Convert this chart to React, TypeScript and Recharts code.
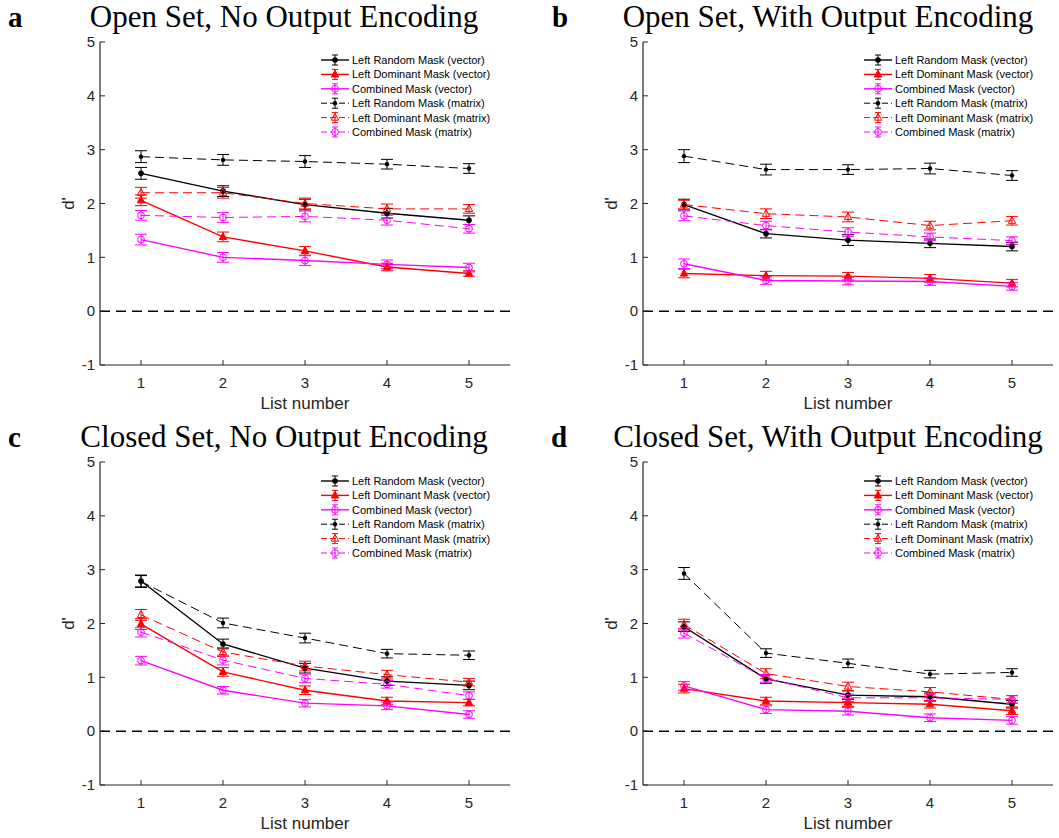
import React from 'react';
import { LineChart, Line, XAxis, YAxis, ErrorBar, ReferenceLine, Legend } from 'recharts';

// ---------- data ----------
const listNumbers = [1, 2, 3, 4, 5];
const xTicks = [1, 2, 3, 4, 5];
const yTicks = [-1, 0, 1, 2, 3, 4, 5];

const seriesNames = [
  'Left Random Mask (vector)',
  'Left Dominant Mask (vector)',
  'Combined Mask (vector)',
  'Left Random Mask (matrix)',
  'Left Dominant Mask (matrix)',
  'Combined Mask (matrix)',
];

// Panel a: Open Set, No Output Encoding
const aLRvec = [2.56, 2.23, 1.98, 1.82, 1.69];
const aLDvec = [2.06, 1.38, 1.12, 0.82, 0.7];
const aCMvec = [1.33, 1.0, 0.94, 0.87, 0.81];
const aLRmat = [2.87, 2.81, 2.78, 2.73, 2.65];
const aLDmat = [2.2, 2.2, 2.0, 1.9, 1.9];
const aCMmat = [1.78, 1.74, 1.76, 1.69, 1.53];
const aLRvecErr = [0.11, 0.1, 0.1, 0.09, 0.08];
const aLDvecErr = [0.1, 0.09, 0.08, 0.07, 0.05];
const aCMvecErr = [0.1, 0.09, 0.09, 0.08, 0.08];
const aLRmatErr = [0.11, 0.1, 0.11, 0.09, 0.09];
const aLDmatErr = [0.1, 0.1, 0.1, 0.09, 0.08];
const aCMmatErr = [0.09, 0.09, 0.1, 0.09, 0.08];

// Panel b: Open Set, With Output Encoding
const bLRvec = [1.98, 1.44, 1.32, 1.26, 1.2];
const bLDvec = [0.7, 0.66, 0.65, 0.61, 0.52];
const bCMvec = [0.88, 0.57, 0.56, 0.55, 0.46];
const bLRmat = [2.88, 2.63, 2.63, 2.65, 2.52];
const bLDmat = [1.98, 1.81, 1.75, 1.59, 1.68];
const bCMmat = [1.77, 1.59, 1.47, 1.38, 1.31];
const bLRvecErr = [0.1, 0.08, 0.1, 0.08, 0.08];
const bLDvecErr = [0.08, 0.08, 0.07, 0.07, 0.07];
const bCMvecErr = [0.09, 0.07, 0.07, 0.07, 0.07];
const bLRmatErr = [0.12, 0.1, 0.09, 0.1, 0.09];
const bLDmatErr = [0.08, 0.09, 0.09, 0.08, 0.08];
const bCMmatErr = [0.09, 0.08, 0.08, 0.07, 0.07];

// Panel c: Closed Set, No Output Encoding
const cLRvec = [2.79, 1.62, 1.17, 0.93, 0.85];
const cLDvec = [1.99, 1.1, 0.76, 0.56, 0.53];
const cCMvec = [1.31, 0.76, 0.52, 0.47, 0.31];
const cLRmat = [2.78, 2.01, 1.73, 1.44, 1.41];
const cLDmat = [2.16, 1.47, 1.21, 1.05, 0.91];
const cCMmat = [1.84, 1.32, 0.98, 0.87, 0.66];
const cLRvecErr = [0.11, 0.09, 0.09, 0.08, 0.08];
const cLDvecErr = [0.1, 0.08, 0.08, 0.07, 0.06];
const cCMvecErr = [0.08, 0.07, 0.07, 0.07, 0.07];
const cLRmatErr = [0.11, 0.09, 0.09, 0.08, 0.08];
const cLDmatErr = [0.1, 0.08, 0.09, 0.08, 0.07];
const cCMmatErr = [0.09, 0.09, 0.08, 0.07, 0.07];

// Panel d: Closed Set, With Output Encoding
const dLRvec = [1.94, 0.97, 0.67, 0.64, 0.5];
const dLDvec = [0.79, 0.56, 0.53, 0.5, 0.38];
const dCMvec = [0.84, 0.4, 0.37, 0.25, 0.2];
const dLRmat = [2.93, 1.45, 1.26, 1.06, 1.09];
const dLDmat = [1.98, 1.07, 0.83, 0.73, 0.59];
const dCMmat = [1.82, 0.98, 0.62, 0.62, 0.59];
const dLRvecErr = [0.09, 0.08, 0.08, 0.07, 0.07];
const dLDvecErr = [0.08, 0.07, 0.07, 0.07, 0.07];
const dCMvecErr = [0.08, 0.07, 0.07, 0.07, 0.07];
const dLRmatErr = [0.11, 0.08, 0.08, 0.07, 0.07];
const dLDmatErr = [0.1, 0.09, 0.08, 0.08, 0.07];
const dCMmatErr = [0.09, 0.07, 0.07, 0.07, 0.07];

// ---------- styling ----------
const AXIS = '#262626';
const SANS = '"Liberation Sans", Arial, Helvetica, sans-serif';
const SERIF = '"Liberation Serif", "Times New Roman", serif';

type Marker = 'dotV' | 'dotM' | 'triF' | 'triO' | 'circ';
const styles: { color: string; dash?: string; width: number; marker: Marker }[] = [
  { color: '#000000', width: 1.4, marker: 'dotV' },
  { color: '#ff0000', width: 1.4, marker: 'triF' },
  { color: '#ff00ff', width: 1.4, marker: 'circ' },
  { color: '#000000', width: 1, dash: '9 5', marker: 'dotM' },
  { color: '#ff0000', width: 1, dash: '9 5', marker: 'triO' },
  { color: '#ff00ff', width: 1, dash: '9 5', marker: 'circ' },
];

function drawMarker(m: Marker, cx: number, cy: number, color: string, key?: string) {
  switch (m) {
    case 'dotV':
      return <circle key={key} cx={cx} cy={cy} r={2.8} fill={color} stroke="none" />;
    case 'dotM':
      return <circle key={key} cx={cx} cy={cy} r={2.2} fill={color} stroke="none" />;
    case 'triF':
      return (
        <polygon
          key={key}
          points={`${cx},${cy - 4.2} ${cx - 3.7},${cy + 2.6} ${cx + 3.7},${cy + 2.6}`}
          fill={color}
          stroke={color}
          strokeWidth={1}
        />
      );
    case 'triO':
      return (
        <polygon
          key={key}
          points={`${cx},${cy - 4.2} ${cx - 3.7},${cy + 2.6} ${cx + 3.7},${cy + 2.6}`}
          fill="none"
          stroke={color}
          strokeWidth={1}
        />
      );
    default:
      return <circle key={key} cx={cx} cy={cy} r={3.4} fill="none" stroke={color} strokeWidth={1} />;
  }
}

const keys = ['lrv', 'ldv', 'cmv', 'lrm', 'ldm', 'cmm'];

function buildRows(vals: number[][], errs: number[][]) {
  return listNumbers.map((x, i) => {
    const row: Record<string, number> = { x };
    keys.forEach((k, s) => {
      row[k] = vals[s][i];
      row[k + 'E'] = errs[s][i];
    });
    return row;
  });
}

const rowsA = buildRows(
  [aLRvec, aLDvec, aCMvec, aLRmat, aLDmat, aCMmat],
  [aLRvecErr, aLDvecErr, aCMvecErr, aLRmatErr, aLDmatErr, aCMmatErr]
);
const rowsB = buildRows(
  [bLRvec, bLDvec, bCMvec, bLRmat, bLDmat, bCMmat],
  [bLRvecErr, bLDvecErr, bCMvecErr, bLRmatErr, bLDmatErr, bCMmatErr]
);
const rowsC = buildRows(
  [cLRvec, cLDvec, cCMvec, cLRmat, cLDmat, cCMmat],
  [cLRvecErr, cLDvecErr, cCMvecErr, cLRmatErr, cLDmatErr, cCMmatErr]
);
const rowsD = buildRows(
  [dLRvec, dLDvec, dCMvec, dLRmat, dLDmat, dCMmat],
  [dLRvecErr, dLDvecErr, dCMvecErr, dLRmatErr, dLDmatErr, dCMmatErr]
);

function LegendBox() {
  const rowH = 14.4;
  return (
    <svg width={200} height={92} style={{ display: 'block', overflow: 'visible' }}>
      {seriesNames.map((name, i) => {
        const st = styles[i];
        const y = 8 + i * rowH;
        return (
          <g key={name}>
            <line x1={3} x2={31} y1={y} y2={y} stroke={st.color} strokeWidth={st.width} strokeDasharray={st.dash ? '6 3' : undefined} />
            <line x1={17} x2={17} y1={y - 5} y2={y + 5} stroke={st.color} strokeWidth={1} />
            <line x1={14} x2={20} y1={y - 5} y2={y - 5} stroke={st.color} strokeWidth={1} />
            <line x1={14} x2={20} y1={y + 5} y2={y + 5} stroke={st.color} strokeWidth={1} />
            {drawMarker(st.marker, 17, y, st.color)}
            <text x={34} y={y} dy="0.36em" fontSize={11} fontFamily={SANS} fill="#000">
              {name}
            </text>
          </g>
        );
      })}
    </svg>
  );
}

type PanelProps = {
  rows: Record<string, number>[];
  left: number;
  top: number;
  width: number;
  yAxisWidth: number;
  legendLeft: number;
  legendTop: number;
};

function Panel({ rows, left, top, width, yAxisWidth, legendLeft, legendTop }: PanelProps) {
  const height = 420;
  const rightMargin = width - yAxisWidth - 410;
  return (
    <div style={{ position: 'absolute', left, top, width, height }}>
      <LineChart width={width} height={height} data={rows} margin={{ top: 42, right: rightMargin, bottom: 0, left: 0 }}>
        <XAxis
          dataKey="x"
          type="number"
          domain={[0.5, 5.5]}
          ticks={xTicks}
          interval={0}
          height={55}
          tickSize={-5}
          tickMargin={17}
          axisLine={{ stroke: AXIS, strokeWidth: 1.2 }}
          tickLine={{ stroke: AXIS, strokeWidth: 1 }}
          tick={{ fill: AXIS, fontSize: 15, fontFamily: SANS }}
          label={{ value: 'List number', position: 'insideBottom', offset: 11, fill: AXIS, fontSize: 17, fontFamily: SANS }}
        />
        <XAxis
          xAxisId="top"
          orientation="top"
          dataKey="x"
          type="number"
          domain={[0.5, 5.5]}
          ticks={xTicks}
          interval={0}
          height={0}
          tickSize={-5}
          tickFormatter={() => ''}
          axisLine={{ stroke: AXIS, strokeWidth: 1.2 }}
          tickLine={{ stroke: AXIS, strokeWidth: 1 }}
        />
        <YAxis
          type="number"
          domain={[-1, 5]}
          ticks={yTicks}
          interval={0}
          width={yAxisWidth}
          tickSize={-5}
          tickMargin={10}
          axisLine={{ stroke: AXIS, strokeWidth: 1.2 }}
          tickLine={{ stroke: AXIS, strokeWidth: 1 }}
          tick={{ fill: AXIS, fontSize: 15, fontFamily: SANS }}
          label={{
            content: (p: any) => {
              const vb = p.viewBox || { x: 0, y: 42, width: yAxisWidth, height: 323 };
              const cx = vb.x + vb.width - 32.5;
              const cy = vb.y + vb.height / 2;
              return (
                <text
                  x={cx}
                  y={cy}
                  dy="0.36em"
                  textAnchor="middle"
                  transform={`rotate(-90, ${cx}, ${cy})`}
                  fill={AXIS}
                  fontSize={17}
                  fontFamily={SANS}
                >
                  d'
                </text>
              );
            },
          }}
        />
        <YAxis
          yAxisId="right"
          orientation="right"
          type="number"
          domain={[-1, 5]}
          ticks={yTicks}
          interval={0}
          width={0}
          tickSize={-5}
          tickFormatter={() => ''}
          axisLine={{ stroke: AXIS, strokeWidth: 1.2 }}
          tickLine={{ stroke: AXIS, strokeWidth: 1 }}
        />
        <ReferenceLine y={0} stroke="#000" strokeWidth={1.5} strokeDasharray="10 6" />
        {keys.map((k, s) => {
          const st = styles[s];
          return (
            <Line
              key={k}
              type="linear"
              dataKey={k}
              name={seriesNames[s]}
              stroke={st.color}
              strokeWidth={st.width}
              strokeDasharray={st.dash}
              isAnimationActive={false}
              activeDot={false}
              dot={(p: any) => drawMarker(st.marker, p.cx, p.cy, st.color, `${k}-${p.index}`)}
            >
              <ErrorBar dataKey={k + 'E'} direction="y" width={6} stroke={st.color} strokeWidth={1} isAnimationActive={false} />
            </Line>
          );
        })}
        <Legend
          layout="vertical"
          align="center"
          verticalAlign="middle"
          content={() => <LegendBox />}
          wrapperStyle={{ left: legendLeft, top: legendTop, width: 200, height: 92 }}
        />
      </LineChart>
    </div>
  );
}

const panels = [
  { letter: 'a', title: 'Open Set, No Output Encoding', rows: rowsA, left: 0, top: 0, width: 530, yw: 100, letterX: 8, titleCx: 284 },
  { letter: 'b', title: 'Open Set, With Output Encoding', rows: rowsB, left: 530, top: 0, width: 529, yw: 113, letterX: 552, titleCx: 828 },
  { letter: 'c', title: 'Closed Set, No Output Encoding', rows: rowsC, left: 0, top: 420, width: 530, yw: 100, letterX: 8, titleCx: 284 },
  { letter: 'd', title: 'Closed Set, With Output Encoding', rows: rowsD, left: 530, top: 420, width: 529, yw: 113, letterX: 551, titleCx: 828 },
];

export default function App() {
  return (
    <div style={{ position: 'absolute', left: 0, top: 0, width: 1059, height: 838, background: '#fff', overflow: 'hidden' }}>
      {panels.map((p) => (
        <Panel
          key={p.letter}
          rows={p.rows}
          left={p.left}
          top={p.top}
          width={p.width}
          yAxisWidth={p.yw}
          legendLeft={p.yw + 410 - 192}
          legendTop={p.top === 0 ? 52 : 53}
        />
      ))}
      <svg width={1059} height={838} style={{ position: 'absolute', left: 0, top: 0, pointerEvents: 'none' }}>
        {panels.map((p) => (
          <g key={p.letter}>
            <text x={p.letterX} y={p.top + 27} fontFamily={SERIF} fontWeight="bold" fontSize={29} fill="#000">
              {p.letter}
            </text>
            <text x={p.titleCx} y={p.top + 27} textAnchor="middle" fontFamily={SERIF} fontSize={31} fill="#000">
              {p.title}
            </text>
          </g>
        ))}
      </svg>
    </div>
  );
}
